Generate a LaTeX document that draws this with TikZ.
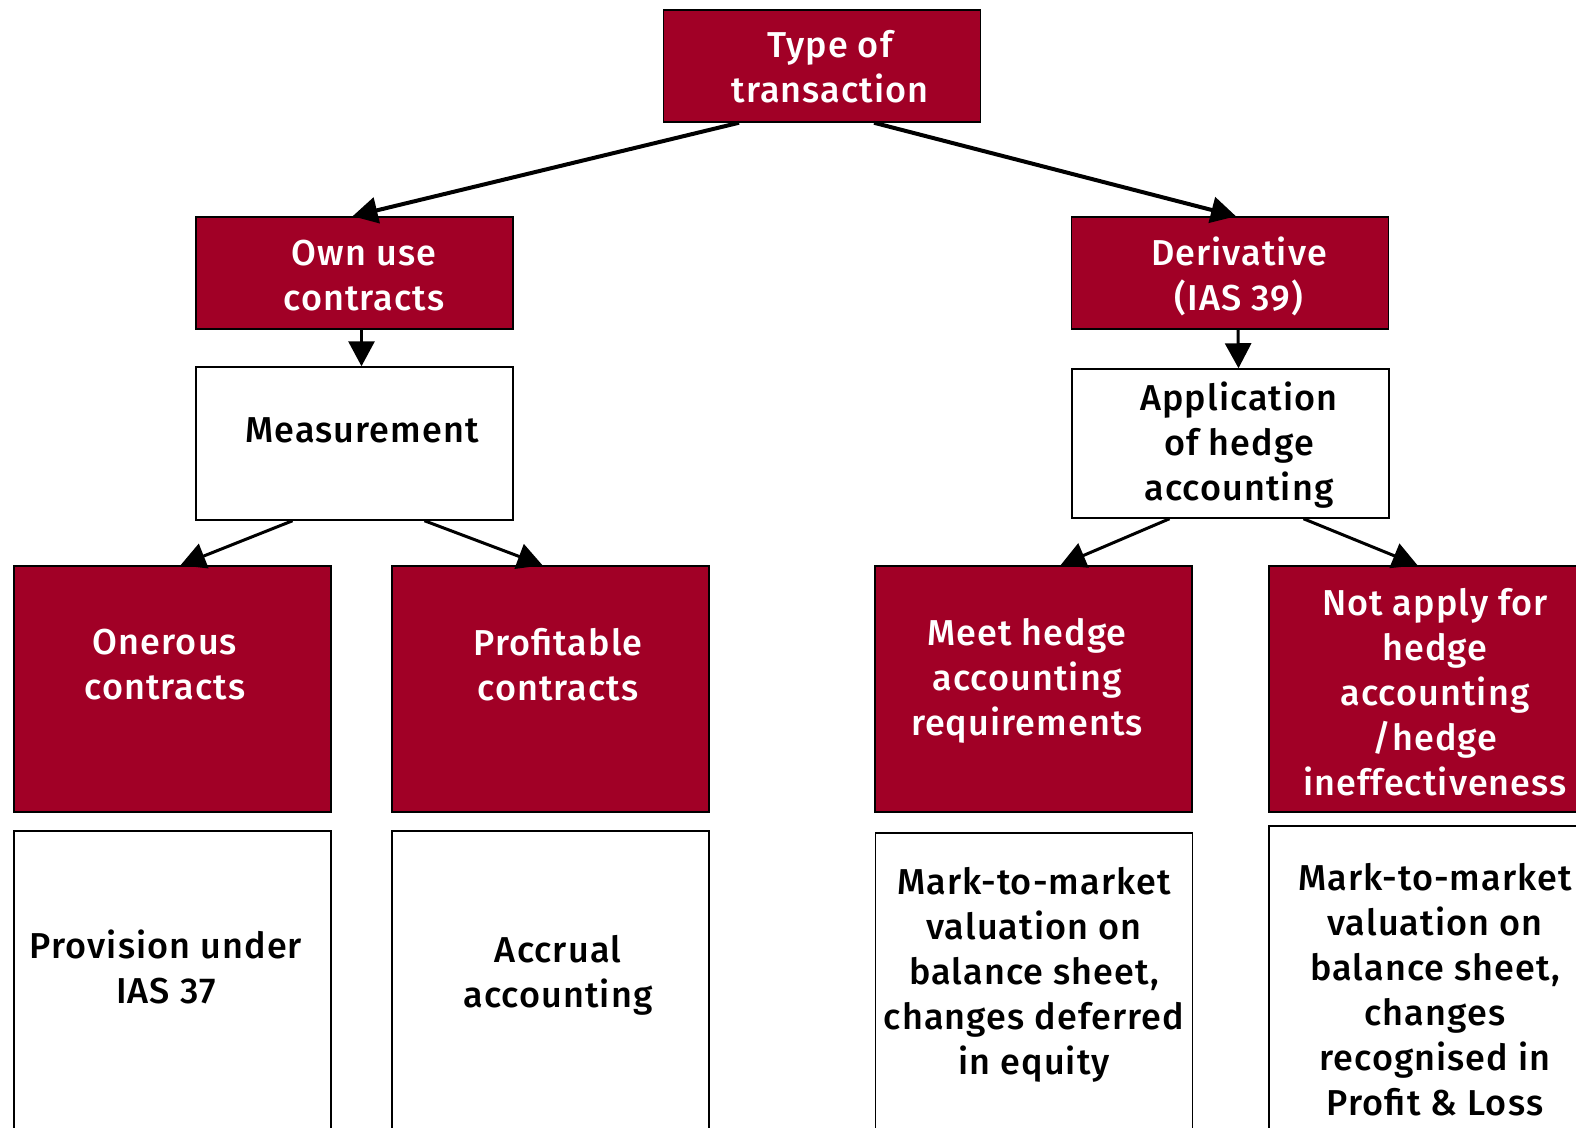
\documentclass[tikz,border=0pt]{standalone}
\usepackage{fontspec}
\setmainfont{Fira Sans}[UprightFont=* Medium, LetterSpace=3]
\usetikzlibrary{arrows.meta, positioning}
\definecolor{claret}{RGB}{161,0,38}

\begin{document}
\begin{tikzpicture}[x=1pt, y=-1pt,
    redbox/.style={rectangle, draw=black, line width=1.5pt, fill=claret,
                   minimum width=317pt, minimum height=112pt, inner sep=0pt},
    whitebox/.style={rectangle, draw=black, line width=1.5pt, fill=white,
                     minimum width=317pt, inner sep=0pt},
    boxtext/.style={align=center, inner sep=0pt, font=\fontsize{36}{45}\selectfont},
    redtext/.style={boxtext, text=white},
    flow/.style={-{Triangle[length=25pt, width=26pt]}, line width=3pt}
]
\useasboundingbox (0,0) rectangle (1576,1127);

% top level
\node[redbox] (trans) at (822,66) {};
\node[redtext] (trans-t) at (830,67) {Type of\\transaction};

\node[redbox] (own) at (354.5,273) {};
\node[redtext] (own-t) at (364,276) {Own use\\contracts};
\node[redbox] (deriv) at (1230,273) {};
\node[redtext] (deriv-t) at (1239,276) {Derivative\\(IAS 39)};

\node[whitebox, minimum height=153pt] (meas) at (354.5,443.5) {};
\node[boxtext] (meas-t) at (362,430) {Measurement};
\node[whitebox, minimum height=149pt] (hedge) at (1230.5,443.5) {};
\node[boxtext] (hedge-t) at (1239,445) {Application\\of hedge\\accounting};

% outcome boxes
\node[redbox, minimum height=246pt] (onerous) at (172.5,689) {};
\node[redtext] (onerous-t) at (165,665) {Onerous\\contracts};
\node[redbox, minimum height=246pt] (profit) at (550.5,689) {};
\node[redtext] (profit-t) at (558,665) {Profitable\\contracts};
\node[redbox, minimum height=246pt] (meet) at (1033.5,689) {};
\node[redtext] (meet-t) at (1027,681) {Meet hedge\\accounting\\requirements};
\node[redbox, minimum height=246pt] (noapply) at (1427.5,689) {};
\node[redtext] (noapply-t) at (1435,692)
    {Not apply for\\hedge\\accounting\\/hedge\\ineffectiveness};

% treatment boxes, running off the bottom
\node[whitebox, minimum height=340pt, anchor=north] (provision) at (172.5,830) {};
\node[boxtext] (provision-t) at (166,967) {Provision under\\IAS 37};
\node[whitebox, minimum height=340pt, anchor=north] (accrual) at (550.5,830) {};
\node[boxtext] (accrual-t) at (558,975) {Accrual\\accounting};
\node[whitebox, minimum height=340pt, anchor=north] (mtmeq) at (1034,832) {};
\node[boxtext] (mtmeq-t) at (1034,975)
    {Mark-to-market\\valuation on\\balance sheet,\\changes deferred\\in equity};
\node[whitebox, minimum height=340pt, anchor=north] (mtmpl) at (1427.5,825) {};
\node[boxtext] (mtmpl-t) at (1435,990)
    {Mark-to-market\\valuation on\\balance sheet,\\changes\\recognised in\\Profit \& Loss};

% connectors
\draw[flow, line width=4pt] ([xshift=-83pt]trans.south) -- ([xshift=-2pt]own.north);
\draw[flow, line width=4pt] ([xshift=52pt]trans.south) -- ([xshift=6pt]deriv.north);
\draw[flow] ([xshift=7pt]own.south) -- ([xshift=7pt]meas.north);
\draw[flow] ([xshift=8pt]deriv.south) -- ([xshift=8pt]hedge.north);
\draw[flow] ([xshift=-62pt]meas.south) -- ([xshift=8pt]onerous.north);
\draw[flow] ([xshift=70pt]meas.south) -- ([xshift=-8pt]profit.north);
\draw[flow] ([xshift=-61pt]hedge.south) -- ([xshift=27pt]meet.north);
\draw[flow] ([xshift=73pt]hedge.south) -- ([xshift=-10pt]noapply.north);

\end{tikzpicture}
\end{document}
